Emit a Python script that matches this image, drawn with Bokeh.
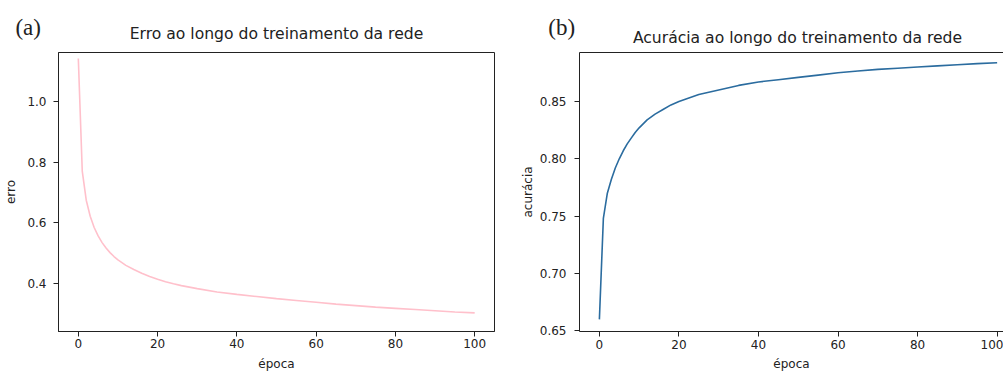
from bokeh.plotting import figure
from bokeh.layouts import row, column
from bokeh.models import FixedTicker, PrintfTickFormatter, Range1d, LinearAxis, Label
from bokeh.embed import file_html
from bokeh.resources import INLINE

# ---- data ----
epocas_erro = [0, 1, 2, 3, 4, 5, 6, 7, 8, 9, 10, 12, 14, 16, 18, 20, 22, 24, 26, 28, 30,
               35, 40, 45, 50, 55, 60, 65, 70, 75, 80, 85, 90, 95, 100]
erro = [1.143, 0.770, 0.675, 0.622, 0.585, 0.557, 0.535, 0.517, 0.502, 0.489, 0.478,
        0.460, 0.446, 0.434, 0.423, 0.414, 0.406, 0.399, 0.393, 0.388, 0.383,
        0.372, 0.364, 0.357, 0.350, 0.344, 0.338, 0.332, 0.327, 0.322, 0.318,
        0.314, 0.310, 0.306, 0.303]

epocas_acc = [0, 1, 2, 3, 4, 5, 6, 7, 8, 9, 10, 12, 14, 16, 18, 20, 25, 30, 35, 40,
              45, 50, 55, 60, 65, 70, 75, 80, 85, 90, 95, 100]
acuracia = [0.660, 0.748, 0.770, 0.782, 0.792, 0.800, 0.807, 0.813, 0.818, 0.823, 0.827,
            0.834, 0.839, 0.843, 0.847, 0.850, 0.856, 0.860, 0.864, 0.867,
            0.869, 0.871, 0.873, 0.875, 0.8765, 0.878, 0.879, 0.880, 0.881, 0.882, 0.883, 0.8838]

x_ticks = [0, 20, 40, 60, 80, 100]
erro_ticks = [0.4, 0.6, 0.8, 1.0]
acc_ticks = [0.65, 0.70, 0.75, 0.80, 0.85]

titulo_a = "Erro ao longo do treinamento da rede"
titulo_b = "Acurácia ao longo do treinamento da rede"

FONT = "DejaVu Sans"
INK = "#222222"

# ---- layout constants (pixels) ----
W, H = 1003, 374
WA = 512                        # width of panel (a)
WB = W - WA                     # width of panel (b)
BAND = 48                       # strip holding the titles and panel tags
A_LEFT, A_FRAME_W = 58, 436
B_LEFT = 67                     # left border of panel (b)
B_HALF = 218                    # half width of panel (b) frame (it runs past the page edge)


def style_axis(ax):
    ax.major_label_text_font = FONT
    ax.major_label_text_font_size = "12px"
    ax.major_label_text_color = INK
    ax.axis_label_text_font = FONT
    ax.axis_label_text_font_size = "12px"
    ax.axis_label_text_font_style = "normal"
    ax.axis_label_text_color = INK
    ax.axis_line_color = INK
    ax.major_tick_line_color = INK
    ax.minor_tick_line_color = None
    ax.major_tick_in = 0


def style_fig(p):
    p.grid.visible = False
    p.background_fill_color = "white"
    p.border_fill_color = "white"
    for ax in p.xaxis:
        style_axis(ax)
    for ax in p.yaxis:
        style_axis(ax)


# ---- strip with titles and panel tags ----
band = figure(width=W, height=BAND, output_backend="svg", toolbar_location=None,
              x_range=Range1d(0, W), y_range=Range1d(0, BAND),
              x_axis_location=None, y_axis_location=None, min_border=0)
band.outline_line_color = None
band.grid.visible = False
band.background_fill_color = "white"
band.border_fill_color = "white"


def tag(text, x, y):
    band.add_layout(Label(x=x, y=y, x_units="screen", y_units="screen", text=text,
                          text_font="Liberation Serif", text_font_size="23px",
                          text_align="center", text_baseline="alphabetic", text_color=INK))


def head(text, x, y):
    band.add_layout(Label(x=x, y=y, x_units="screen", y_units="screen", text=text,
                          text_font=FONT, text_font_size="15.6px",
                          text_align="center", text_baseline="alphabetic", text_color=INK))


tag("(a)", 27.7, BAND - 26.7)
tag("(b)", 561.2, BAND - 26.7)
head(titulo_a, A_LEFT + A_FRAME_W / 2, BAND - 33.9)
head(titulo_b, WA + B_LEFT + B_HALF, BAND - 37.3)

# ---- (a) erro ----
pa = figure(width=WA, height=H - BAND, output_backend="svg", toolbar_location=None,
            x_range=Range1d(-5, 105), y_range=Range1d(0.2415, 1.1628),
            min_border_left=A_LEFT, min_border_right=WA - A_LEFT - A_FRAME_W,
            min_border_top=1, min_border_bottom=43)
style_fig(pa)
pa.outline_line_color = INK
pa.line(epocas_erro, erro, line_color="pink", line_width=1.6)
pa.xaxis.ticker = FixedTicker(ticks=x_ticks)
pa.yaxis.ticker = FixedTicker(ticks=erro_ticks)
pa.yaxis.formatter = PrintfTickFormatter(format="%.1f")
pa.xaxis.axis_label = "época"
pa.yaxis.axis_label = "erro"
pa.xaxis.major_tick_out = 5
pa.xaxis.major_label_standoff = 2
pa.xaxis.axis_label_standoff = 6
pa.yaxis.major_tick_out = 5
pa.yaxis.major_label_standoff = 7
pa.yaxis.axis_label_standoff = 6

# ---- (b) acurácia ----
pb = figure(width=WB, height=H - BAND, output_backend="svg", toolbar_location=None,
            x_range=Range1d(-5, 101.6), y_range=Range1d(0.6494, 0.8927),
            min_border_left=B_LEFT, min_border_right=0, min_border_top=4, min_border_bottom=40)
style_fig(pb)
pb.outline_line_color = None
top_axis = LinearAxis(ticker=FixedTicker(ticks=[]), major_tick_out=0, major_tick_in=0,
                      minor_tick_out=0, minor_tick_in=0, major_label_standoff=0,
                      axis_line_color=INK)
pb.add_layout(top_axis, "above")
bottom_b = pb.below[0]
bottom_b.ticker = FixedTicker(ticks=x_ticks)
bottom_b.axis_label = "época"
bottom_b.major_tick_out = 5
bottom_b.major_label_standoff = 3
bottom_b.axis_label_standoff = 5
pb.yaxis.ticker = FixedTicker(ticks=acc_ticks)
pb.yaxis.formatter = PrintfTickFormatter(format="%.2f")
pb.yaxis.axis_label = "acurácia"
pb.yaxis.major_tick_out = 5
pb.yaxis.major_label_standoff = 8
pb.yaxis.axis_label_standoff = 2
pb.line(epocas_acc, acuracia, line_color="#2b6c9f", line_width=1.6)

layout = column(band, row(pa, pb))
open("out.html", "w").write(file_html(layout, INLINE))
